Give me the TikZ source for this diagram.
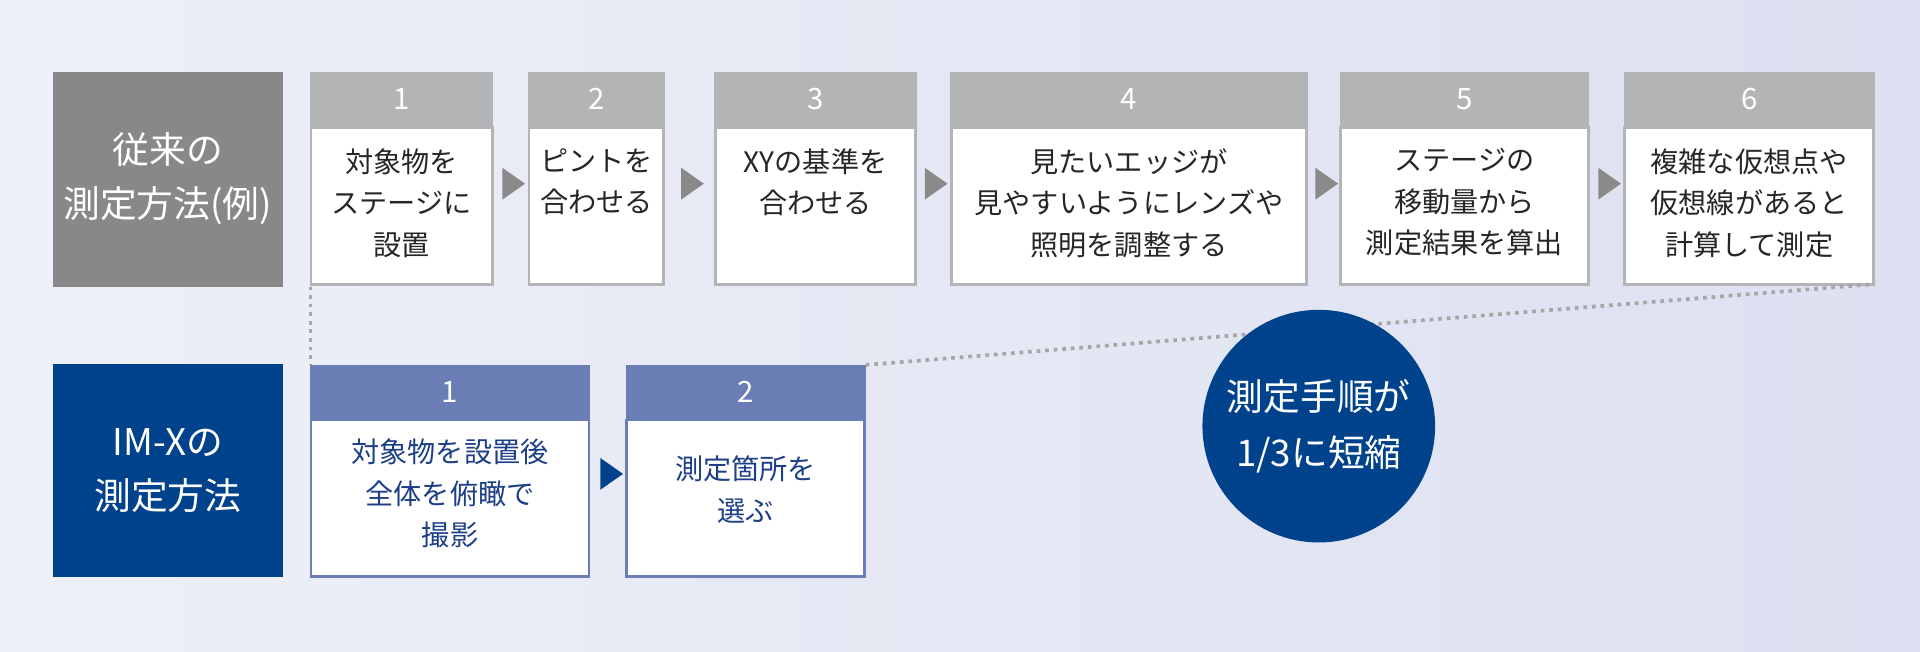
\documentclass[tikz,border=0pt]{standalone}
\usepackage{fontspec}
\setmainfont{Noto Sans CJK JP}
\usetikzlibrary{shapes.geometric}
\definecolor{bgL}{HTML}{EEF0F8}
\definecolor{bgR}{HTML}{DCE0F0}
\definecolor{hdrgray}{HTML}{B3B4B5}
\definecolor{labgray}{HTML}{888888}
\definecolor{navy}{HTML}{00428C}
\definecolor{hdrblue}{HTML}{6A7DB5}
\definecolor{txtblue}{HTML}{1D3F87}
\definecolor{arrgray}{HTML}{8A8A8A}
\begin{document}
\begin{tikzpicture}[x=0.5pt,y=-0.5pt,
  lab/.style={text=white,font=\fontsize{15}{22}\selectfont,align=center},
  num/.style={font=\fontsize{12}{14}\selectfont},
  body/.style={font=\fontsize{11.5}{17}\selectfont,align=center},
  tri/.style={isosceles triangle,isosceles triangle apex angle=70,minimum height=7pt,minimum width=13pt,inner sep=0pt}]
\shade[left color=bgL,right color=bgR] (0,0) rectangle (1568,532);
\useasboundingbox (0,0) rectangle (1568,532);
% left labels
\fill[labgray] (43,59) rectangle (231,234);
\node[lab] (L1) at (137,146) {従来の\\測定方法(例)};
\fill[navy] (43,297) rectangle (231,471);
\node[lab] (L2) at (137,384) {IM-Xの\\測定方法};
% top steps
\foreach \a/\b/\n/\t [count=\i] in {253/403/1/{対象物を\\ステージに\\設置},431/543/2/{ピントを\\合わせる},583/749/3/{XYの基準を\\合わせる},776/1068/4/{見たいエッジが\\見やすいようにレンズや\\照明を調整する},1094/1298/5/{ステージの\\移動量から\\測定結果を算出},1326/1531/6/{複雑な仮想点や\\仮想線があると\\計算して測定}}{
  \fill[hdrgray] (\a,59) rectangle (\b,104);
  \fill[white,draw=hdrgray,line width=1.2pt] (\a+1,104) rectangle (\b-1,232);
  \node[num,text=white] (tn\i) at ({(\a+\b)/2},81) {\n};
  \node[body,text=black!85,anchor=north] (tb\i) at ({(\a+\b)/2},114) {\t};
}
\foreach \x/\i in {417/1,563/2,762/3,1081/4,1312/5}{
  \node[tri,fill=arrgray] (ta\i) at (\x,150) {};
}
% bottom steps
\foreach \a/\b/\n/\t [count=\i] in {253/482/1/{対象物を設置後\\全体を俯瞰で\\撮影},511/707/2/{測定箇所を\\選ぶ}}{
  \fill[hdrblue] (\a,298) rectangle (\b,343);
  \fill[white,draw=hdrblue,line width=1.2pt] (\a+1,343) rectangle (\b-1,471);
  \node[num,text=white] (bn\i) at ({(\a+\b)/2},320) {\n};
}
\node[body,text=txtblue] (bb1) at (367.5,403) {対象物を設置後\\全体を俯瞰で\\撮影};
\node[body,text=txtblue] (bb2) at (609,400) {測定箇所を\\選ぶ};
\node[tri,fill=navy] (ba1) at (497,387) {};
% dotted connectors
\coordinate (d1) at (253.5,234);
\coordinate (d2) at (253.5,298);
\coordinate (d3) at (707,298);
\coordinate (d4) at (1531,232);
\draw[gray!70,dotted,line width=1.5pt] (d1) -- (d2);
\draw[gray!70,dotted,line width=1.5pt] (d3) -- (d4);
% circle
\node[circle,fill=navy,minimum size=95pt,text=white,font=\fontsize{15}{23}\selectfont,align=center] (C) at (1077,348) {測定手順が\\1/3に短縮};
\end{tikzpicture}
\end{document}
